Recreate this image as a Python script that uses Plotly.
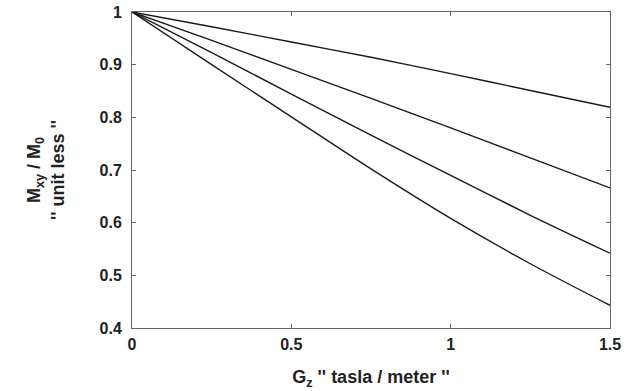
import plotly.graph_objects as go

gz = [0, 0.25, 0.5, 0.75, 1.0, 1.25, 1.5]
curve1 = [1, 0.972, 0.943, 0.914, 0.883, 0.851, 0.819]
curve2 = [1, 0.946, 0.891, 0.836, 0.780, 0.723, 0.666]
curve3 = [1, 0.923, 0.844, 0.766, 0.690, 0.614, 0.542]
curve4 = [1, 0.900, 0.801, 0.702, 0.608, 0.522, 0.443]

x_ticks = [0, 0.5, 1, 1.5]
x_tick_labels = ["0", "0.5", "1", "1.5"]
y_ticks = [0.4, 0.5, 0.6, 0.7, 0.8, 0.9, 1]
y_tick_labels = ["0.4", "0.5", "0.6", "0.7", "0.8", "0.9", "1"]

fig = go.Figure()
for c in [curve1, curve2, curve3, curve4]:
    fig.add_trace(go.Scatter(x=gz, y=c, mode="lines", line=dict(color="#1a1a1a", width=1.4, shape="spline", smoothing=0.8), showlegend=False, hoverinfo="skip"))

fam = "Liberation Sans, Arial, sans-serif"
axis_common = dict(showgrid=False, zeroline=False, showline=True, linecolor="#666", linewidth=1,
                   mirror="ticks", ticks="inside", ticklen=4, tickcolor="#666", automargin=False,
                   tickfont=dict(family=fam, size=16, color="#222"))

fig.update_layout(
    width=626, height=391,
    margin=dict(l=132, r=16, t=12, b=63),
    paper_bgcolor="white", plot_bgcolor="white",
    font=dict(family=fam, size=16, color="#222"),
    xaxis=dict(range=[0, 1.5], tickvals=x_ticks, ticktext=["<b>%s</b>" % t for t in x_tick_labels],
               ticklabelstandoff=2,
               title=dict(text="<b>G<sub>z</sub> '' tasla / meter ''</b>", standoff=18, font=dict(size=18, family=fam, color="#222")),
               **axis_common),
    yaxis=dict(range=[0.4, 1], tickvals=y_ticks, ticktext=["<b>%s</b>" % t for t in y_tick_labels],
               ticklabelstandoff=6,
               title=dict(text="<b>M<sub>xy</sub> / M<sub>0</sub></b><br><b>'' unit less ''</b>", standoff=30, font=dict(size=18, family=fam, color="#222")),
               **axis_common),
)

fig.write_html("out.html")
